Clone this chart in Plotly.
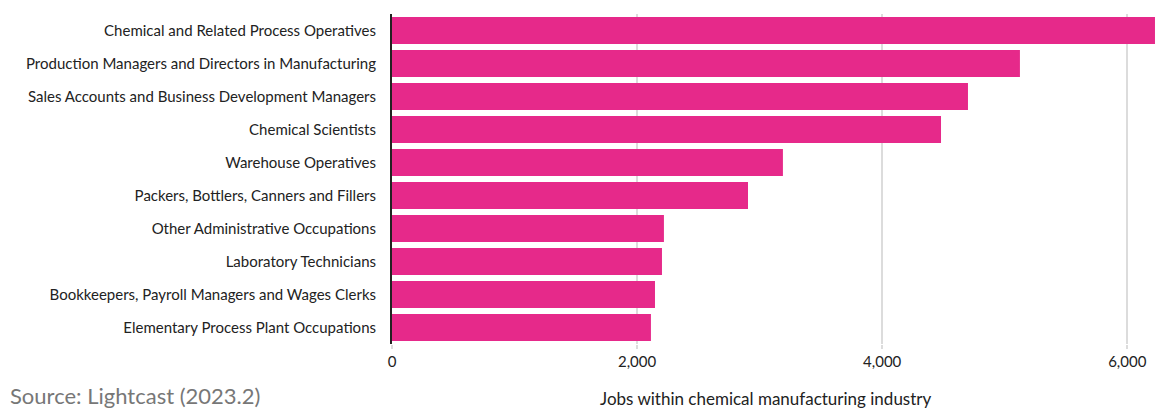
import plotly.graph_objects as go

occupations = [
    "Chemical and Related Process Operatives",
    "Production Managers and Directors in Manufacturing",
    "Sales Accounts and Business Development Managers",
    "Chemical Scientists",
    "Warehouse Operatives",
    "Packers, Bottlers, Canners and Fillers",
    "Other Administrative Occupations",
    "Laboratory Technicians",
    "Bookkeepers, Payroll Managers and Wages Clerks",
    "Elementary Process Plant Occupations",
]
jobs = [6226, 5124, 4700, 4480, 3190, 2905, 2219, 2203, 2146, 2113]
x_ticks = [0, 2000, 4000, 6000]
x_tick_labels = ["0", "2,000", "4,000", "6,000"]

FONT = "Lato, 'Noto Sans', sans-serif"
OFF = 8  # page body margin
W, H = 1169 - OFF, 408 - OFF
ml, mr, mt, mb = 392 - OFF, 9, 14 - OFF, 64
pw = W - ml - mr
ph = H - mt - mb

def px_x(page_x):
    return (page_x - OFF - ml) / pw

def px_y(page_y):
    return (mt + ph - (page_y - OFF)) / ph

fig = go.Figure(go.Bar(
    x=jobs, y=occupations, orientation="h",
    marker=dict(color="#E6298A", line=dict(width=0)),
    hoverinfo="x+y",
))

fig.update_layout(
    width=W, height=H,
    margin=dict(l=ml, r=mr, t=mt, b=mb, pad=0, autoexpand=False),
    paper_bgcolor="white", plot_bgcolor="white",
    font=dict(family=FONT, size=15, color="#222"),
    bargap=0.18,
    showlegend=False,
    xaxis=dict(
        range=[0, 6267],
        tickvals=x_ticks, ticktext=x_tick_labels,
        showgrid=True, gridcolor="#dcdcdc", gridwidth=1.5,
        zeroline=False, showline=False,
        ticks="outside", ticklen=4, tickcolor="#dcdcdc", tickwidth=1.5,
        tickfont=dict(size=15, color="#222"),
        automargin=False,
    ),
    yaxis=dict(
        autorange="reversed",
        showline=True, linecolor="#222", linewidth=2,
        showgrid=False, zeroline=False,
        ticks="", ticklabelstandoff=11,
        tickfont=dict(size=15, color="#222"),
        automargin=False,
    ),
    annotations=[
        dict(
            text="Jobs within chemical manufacturing industry",
            xref="paper", yref="paper",
            x=px_x(766), y=px_y(398),
            xanchor="center", yanchor="middle",
            showarrow=False,
            font=dict(size=17, color="#222", family=FONT),
        ),
        dict(
            text="Source: Lightcast (2023.2)",
            xref="paper", yref="paper",
            x=px_x(8), y=px_y(396),
            xanchor="left", yanchor="middle",
            showarrow=False,
            font=dict(size=22, color="#777", family=FONT),
        ),
    ],
)

fig.write_html("out.html")
